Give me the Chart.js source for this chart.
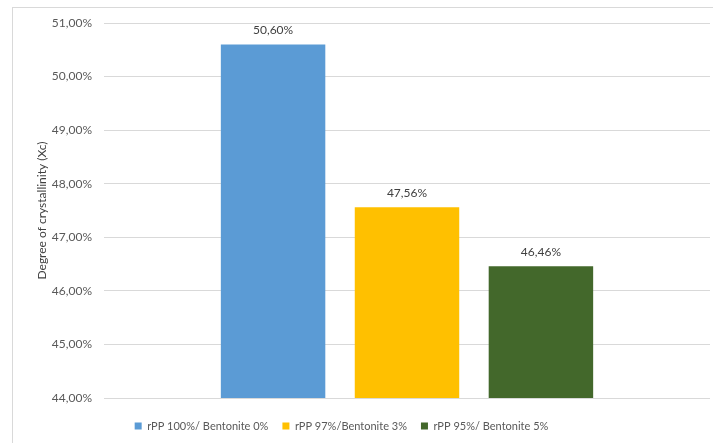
<!DOCTYPE html>
<html>
<head>
<meta charset="utf-8">
<script src="https://cdn.jsdelivr.net/npm/chart.js@4.4.0/dist/chart.umd.min.js"></script>
<style>
  html, body { margin: 0; padding: 0; background: #ffffff; }
  #wrap { width: 713px; height: 443px; position: relative; }
</style>
</head>
<body>
<div id="wrap"><canvas id="c" width="713" height="443"></canvas></div>
<script>
// Degree of crystallinity for each rPP / bentonite blend
const categories = [''];
const seriesLabels = ['rPP 100%/ Bentonite 0%', 'rPP 97%/Bentonite 3%', 'rPP 95%/ Bentonite 5%'];
const seriesValues = [50.60, 47.56, 46.46];
const seriesColors = ['#5b9bd5', '#ffc000', '#43682b'];
const yMin = 44, yMax = 51, yStep = 1;
const yTitle = 'Degree of crystallinity (Xc)';

const fmt = v => v.toFixed(2).replace('.', ',') + '%';
const FONT = 'Lato, "Open Sans", sans-serif';
const LEGEND_FONT = 11;
const LEGEND_PAD = 14;

// Thin frame around the whole chart
const framePlugin = {
  id: 'frame',
  beforeDraw(chart) {
    const ctx = chart.ctx;
    ctx.save();
    ctx.strokeStyle = '#d9d9d9';
    ctx.lineWidth = 1;
    ctx.strokeRect(12.5, 7.5, 800, 500);
    ctx.restore();
  }
};

// Value labels above each bar
const valueLabels = {
  id: 'valueLabels',
  afterDatasetsDraw(chart) {
    const ctx = chart.ctx;
    ctx.save();
    ctx.font = '12px ' + FONT;
    ctx.fillStyle = '#404040';
    ctx.textAlign = 'center';
    ctx.textBaseline = 'middle';
    chart.data.datasets.forEach((ds, i) => {
      const meta = chart.getDatasetMeta(i);
      meta.data.forEach((bar, j) => {
        ctx.fillText(fmt(ds.data[j]), bar.x, bar.y - 14);
      });
    });
    ctx.restore();
  }
};

// Place the legend row a little below the plot, slightly left of centre
const legendPlace = {
  id: 'legendPlace',
  afterLayout(chart) {
    const lg = chart.legend;
    if (!lg) return;
    const shift = -20;
    lg.left += shift;
    lg.right += shift;
    const newTop = chart.chartArea.bottom + 28 - LEGEND_PAD - LEGEND_FONT / 2;
    const h = lg.bottom - lg.top;
    lg.top = newTop;
    lg.bottom = newTop + h;
  }
};

new Chart(document.getElementById('c'), {
  type: 'bar',
  data: {
    labels: categories,
    datasets: seriesLabels.map((lab, i) => ({
      label: lab,
      data: [seriesValues[i]],
      backgroundColor: seriesColors[i],
      borderWidth: 0,
      categoryPercentage: 0.663,
      barPercentage: 0.78
    }))
  },
  options: {
    responsive: false,
    animation: false,
    devicePixelRatio: 1,
    layout: { padding: { left: 13, right: 3, top: 23, bottom: 45 - (LEGEND_FONT + LEGEND_PAD + 10) } },
    scales: {
      x: {
        display: false
      },
      y: {
        min: yMin,
        max: yMax,
        border: { display: false },
        grid: { color: '#d9d9d9', lineWidth: 1, drawTicks: false },
        ticks: {
          stepSize: yStep,
          padding: 12,
          color: '#595959',
          font: { family: FONT, size: 12 },
          callback: v => fmt(v)
        },
        title: {
          display: true,
          text: yTitle,
          color: '#404040',
          font: { family: FONT, size: 12 },
          padding: { top: 22, bottom: 0 }
        },
        afterFit(scale) { scale.width = 91; }
      }
    },
    plugins: {
      legend: {
        position: 'bottom',
        labels: {
          boxWidth: 7,
          boxHeight: 7,
          padding: LEGEND_PAD,
          color: '#595959',
          font: { family: FONT, size: LEGEND_FONT }
        }
      },
      tooltip: { enabled: false }
    }
  },
  plugins: [framePlugin, valueLabels, legendPlace]
});
</script>
</body>
</html>
